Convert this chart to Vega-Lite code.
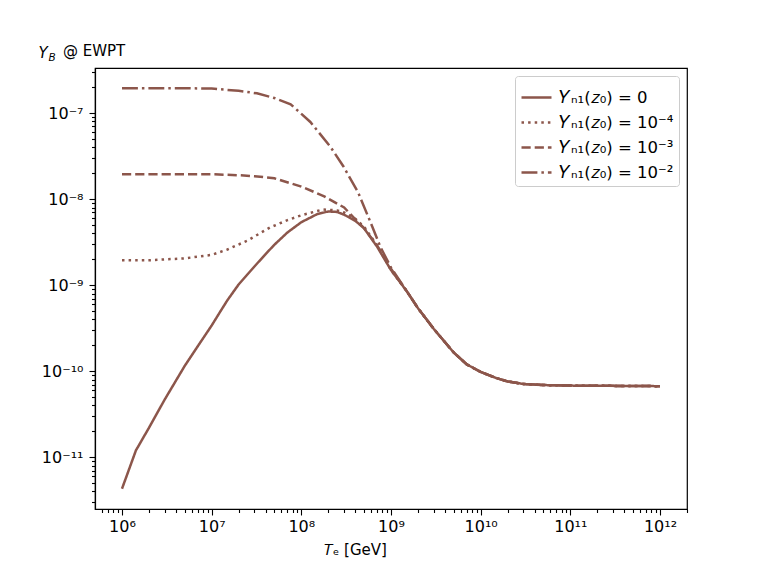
{
  "$schema": "https://vega.github.io/schema/vega-lite/v6.json",
  "description": "Y_B at EWPT against T_e for four initial N1 abundances",
  "autosize": {"type": "none"},
  "padding": {"left": 95, "top": 68, "right": 76, "bottom": 63},
  "width": 592,
  "height": 441,
  "background": "white",
  "title": {
    "text": "@ EWPT",
    "anchor": "start",
    "frame": "group",
    "dx": -32,
    "dy": 14,
    "offset": 0,
    "font": "DejaVu Sans",
    "fontSize": 15,
    "fontWeight": "normal",
    "color": "black"
  },
  "config": {
    "view": {"stroke": "black", "strokeWidth": 1.2},
    "axis": {
      "grid": false,
      "domainColor": "black",
      "domainWidth": 1.2,
      "tickColor": "black",
      "tickWidth": 1.1,
      "labelFont": "DejaVu Sans",
      "labelFontSize": 16,
      "labelColor": "black",
      "titleFont": "DejaVu Sans",
      "titleFontSize": 15,
      "titleFontWeight": "normal",
      "titleColor": "black",
      "labelFlush": false,
      "labelOverlap": false
    },
    "legend": {
      "orient": "top-right",
      "offset": 8,
      "strokeColor": "#cccccc",
      "fillColor": "rgba(255,255,255,0.85)",
      "cornerRadius": 3,
      "padding": 5,
      "rowPadding": -3,
      "labelFont": "DejaVu Sans",
      "labelFontSize": 16.5,
      "labelColor": "black",
      "symbolType": "stroke",
      "symbolSize": 900,
      "symbolStrokeWidth": 2.5,
      "symbolStrokeColor": "#8c564b",
      "labelLimit": 300,
      "labelOffset": 6
    }
  },
  "data": {
    "values": [
      {"T": 1e6, "Y": 4.3e-12, "s": "0"},
      {"T": 1.43e6, "Y": 1.2e-11, "s": "0"},
      {"T": 2e6, "Y": 2.2e-11, "s": "0"},
      {"T": 3e6, "Y": 4.7e-11, "s": "0"},
      {"T": 5e6, "Y": 1.15e-10, "s": "0"},
      {"T": 7e6, "Y": 1.95e-10, "s": "0"},
      {"T": 1e7, "Y": 3.4e-10, "s": "0"},
      {"T": 1.25e7, "Y": 4.95e-10, "s": "0"},
      {"T": 1.5e7, "Y": 6.7e-10, "s": "0"},
      {"T": 2e7, "Y": 1.02e-9, "s": "0"},
      {"T": 2.5e7, "Y": 1.33e-9, "s": "0"},
      {"T": 3e7, "Y": 1.65e-9, "s": "0"},
      {"T": 4e7, "Y": 2.3e-9, "s": "0"},
      {"T": 5e7, "Y": 2.95e-9, "s": "0"},
      {"T": 7e7, "Y": 4.1e-9, "s": "0"},
      {"T": 1e8, "Y": 5.4e-9, "s": "0"},
      {"T": 1.5e8, "Y": 6.7e-9, "s": "0"},
      {"T": 2e8, "Y": 7.2e-9, "s": "0"},
      {"T": 2.5e8, "Y": 7.1e-9, "s": "0"},
      {"T": 3e8, "Y": 6.6e-9, "s": "0"},
      {"T": 4e8, "Y": 5.6e-9, "s": "0"},
      {"T": 5e8, "Y": 4.6e-9, "s": "0"},
      {"T": 7e8, "Y": 2.8e-9, "s": "0"},
      {"T": 1e9, "Y": 1.5e-9, "s": "0"},
      {"T": 1.5e9, "Y": 8.5e-10, "s": "0"},
      {"T": 2e9, "Y": 5.4e-10, "s": "0"},
      {"T": 3e9, "Y": 3.1e-10, "s": "0"},
      {"T": 5e9, "Y": 1.65e-10, "s": "0"},
      {"T": 7e9, "Y": 1.2e-10, "s": "0"},
      {"T": 1e10, "Y": 9.8e-11, "s": "0"},
      {"T": 1.5e10, "Y": 8.3e-11, "s": "0"},
      {"T": 2e10, "Y": 7.6e-11, "s": "0"},
      {"T": 3e10, "Y": 7.1e-11, "s": "0"},
      {"T": 5e10, "Y": 6.9e-11, "s": "0"},
      {"T": 1e11, "Y": 6.8e-11, "s": "0"},
      {"T": 1e12, "Y": 6.7e-11, "s": "0"},

      {"T": 1e6, "Y": 1.95e-9, "s": "1e-4"},
      {"T": 2e6, "Y": 1.95e-9, "s": "1e-4"},
      {"T": 5e6, "Y": 2.05e-9, "s": "1e-4"},
      {"T": 1e7, "Y": 2.25e-9, "s": "1e-4"},
      {"T": 1.5e7, "Y": 2.6e-9, "s": "1e-4"},
      {"T": 2.5e7, "Y": 3.3e-9, "s": "1e-4"},
      {"T": 4.5e7, "Y": 4.7e-9, "s": "1e-4"},
      {"T": 7e7, "Y": 5.7e-9, "s": "1e-4"},
      {"T": 1e8, "Y": 6.5e-9, "s": "1e-4"},
      {"T": 1.75e8, "Y": 7.6e-9, "s": "1e-4"},
      {"T": 2.5e8, "Y": 7.4e-9, "s": "1e-4"},
      {"T": 3e8, "Y": 7.0e-9, "s": "1e-4"},
      {"T": 4e8, "Y": 5.9e-9, "s": "1e-4"},
      {"T": 5e8, "Y": 4.8e-9, "s": "1e-4"},
      {"T": 7e8, "Y": 2.9e-9, "s": "1e-4"},
      {"T": 1e9, "Y": 1.5e-9, "s": "1e-4"},
      {"T": 1.5e9, "Y": 8.5e-10, "s": "1e-4"},
      {"T": 2e9, "Y": 5.4e-10, "s": "1e-4"},
      {"T": 3e9, "Y": 3.1e-10, "s": "1e-4"},
      {"T": 5e9, "Y": 1.65e-10, "s": "1e-4"},
      {"T": 7e9, "Y": 1.2e-10, "s": "1e-4"},
      {"T": 1e10, "Y": 9.8e-11, "s": "1e-4"},
      {"T": 1.5e10, "Y": 8.3e-11, "s": "1e-4"},
      {"T": 2e10, "Y": 7.6e-11, "s": "1e-4"},
      {"T": 3e10, "Y": 7.1e-11, "s": "1e-4"},
      {"T": 5e10, "Y": 6.9e-11, "s": "1e-4"},
      {"T": 1e11, "Y": 6.8e-11, "s": "1e-4"},
      {"T": 1e12, "Y": 6.7e-11, "s": "1e-4"},

      {"T": 1e6, "Y": 1.95e-8, "s": "1e-3"},
      {"T": 1e7, "Y": 1.95e-8, "s": "1e-3"},
      {"T": 2e7, "Y": 1.9e-8, "s": "1e-3"},
      {"T": 3e7, "Y": 1.85e-8, "s": "1e-3"},
      {"T": 5e7, "Y": 1.75e-8, "s": "1e-3"},
      {"T": 1e8, "Y": 1.4e-8, "s": "1e-3"},
      {"T": 1.8e8, "Y": 1.08e-8, "s": "1e-3"},
      {"T": 3e8, "Y": 8.0e-9, "s": "1e-3"},
      {"T": 4.3e8, "Y": 5.4e-9, "s": "1e-3"},
      {"T": 5e8, "Y": 4.6e-9, "s": "1e-3"},
      {"T": 7e8, "Y": 2.9e-9, "s": "1e-3"},
      {"T": 1e9, "Y": 1.55e-9, "s": "1e-3"},
      {"T": 1.5e9, "Y": 8.5e-10, "s": "1e-3"},
      {"T": 2e9, "Y": 5.4e-10, "s": "1e-3"},
      {"T": 3e9, "Y": 3.1e-10, "s": "1e-3"},
      {"T": 5e9, "Y": 1.65e-10, "s": "1e-3"},
      {"T": 7e9, "Y": 1.2e-10, "s": "1e-3"},
      {"T": 1e10, "Y": 9.8e-11, "s": "1e-3"},
      {"T": 1.5e10, "Y": 8.3e-11, "s": "1e-3"},
      {"T": 2e10, "Y": 7.6e-11, "s": "1e-3"},
      {"T": 3e10, "Y": 7.1e-11, "s": "1e-3"},
      {"T": 5e10, "Y": 6.9e-11, "s": "1e-3"},
      {"T": 1e11, "Y": 6.8e-11, "s": "1e-3"},
      {"T": 1e12, "Y": 6.7e-11, "s": "1e-3"},

      {"T": 1e6, "Y": 1.95e-7, "s": "1e-2"},
      {"T": 5e6, "Y": 1.95e-7, "s": "1e-2"},
      {"T": 1e7, "Y": 1.93e-7, "s": "1e-2"},
      {"T": 2e7, "Y": 1.82e-7, "s": "1e-2"},
      {"T": 3.2e7, "Y": 1.7e-7, "s": "1e-2"},
      {"T": 5e7, "Y": 1.5e-7, "s": "1e-2"},
      {"T": 7.6e7, "Y": 1.27e-7, "s": "1e-2"},
      {"T": 1.26e8, "Y": 7.9e-8, "s": "1e-2"},
      {"T": 2.1e8, "Y": 4.1e-8, "s": "1e-2"},
      {"T": 2.95e8, "Y": 2.4e-8, "s": "1e-2"},
      {"T": 4.3e8, "Y": 1.2e-8, "s": "1e-2"},
      {"T": 5.9e8, "Y": 5.4e-9, "s": "1e-2"},
      {"T": 7.6e8, "Y": 2.8e-9, "s": "1e-2"},
      {"T": 1e9, "Y": 1.6e-9, "s": "1e-2"},
      {"T": 1.5e9, "Y": 8.5e-10, "s": "1e-2"},
      {"T": 2e9, "Y": 5.4e-10, "s": "1e-2"},
      {"T": 3e9, "Y": 3.1e-10, "s": "1e-2"},
      {"T": 5e9, "Y": 1.65e-10, "s": "1e-2"},
      {"T": 7e9, "Y": 1.2e-10, "s": "1e-2"},
      {"T": 1e10, "Y": 9.8e-11, "s": "1e-2"},
      {"T": 1.5e10, "Y": 8.3e-11, "s": "1e-2"},
      {"T": 2e10, "Y": 7.6e-11, "s": "1e-2"},
      {"T": 3e10, "Y": 7.1e-11, "s": "1e-2"},
      {"T": 5e10, "Y": 6.9e-11, "s": "1e-2"},
      {"T": 1e11, "Y": 6.8e-11, "s": "1e-2"},
      {"T": 1e12, "Y": 6.7e-11, "s": "1e-2"}
    ]
  },
  "encoding": {
    "x": {
      "field": "T",
      "type": "quantitative",
      "scale": {"type": "log", "domain": [5.0e5, 2.0e12], "nice": false},
      "axis": {
        "title": "\ud835\udc47\u2091 [GeV]",
        "titleX": 260,
        "titleY": 45,
        "titleAlign": "center",
        "titleBaseline": "alphabetic",
        "values": [6e5, 7e5, 8e5, 9e5,
          1e6, 2e6, 3e6, 4e6, 5e6, 6e6, 7e6, 8e6, 9e6,
          1e7, 2e7, 3e7, 4e7, 5e7, 6e7, 7e7, 8e7, 9e7,
          1e8, 2e8, 3e8, 4e8, 5e8, 6e8, 7e8, 8e8, 9e8,
          1e9, 2e9, 3e9, 4e9, 5e9, 6e9, 7e9, 8e9, 9e9,
          1e10, 2e10, 3e10, 4e10, 5e10, 6e10, 7e10, 8e10, 9e10,
          1e11, 2e11, 3e11, 4e11, 5e11, 6e11, 7e11, 8e11, 9e11,
          1e12, 2e12],
        "labelExpr": "abs(log(datum.value)/LN10 - round(log(datum.value)/LN10)) < 0.001 ? '10' + ['\u2076','\u2077','\u2078','\u2079','\u00b9\u2070','\u00b9\u00b9','\u00b9\u00b2'][round(log(datum.value)/LN10) - 6] : ''",
        "tickSize": {"condition": {"test": "abs(log(datum.value)/LN10 - round(log(datum.value)/LN10)) < 0.001", "value": 6}, "value": 3.5},
        "labelPadding": 3
      }
    },
    "strokeDash": {
      "field": "s",
      "type": "nominal",
      "scale": {
        "domain": ["0", "1e-4", "1e-3", "1e-2"],
        "range": [[1, 0], [2.5, 4.1], [9.2, 4], [15.9, 4, 2.5, 4]]
      },
      "legend": {
        "title": null,
        "labelExpr": "datum.value == '0' ? '\ud835\udc4c\u2099\u2081(\ud835\udc67\u2080) = 0' : datum.value == '1e-4' ? '\ud835\udc4c\u2099\u2081(\ud835\udc67\u2080) = 10\u207b\u2074' : datum.value == '1e-3' ? '\ud835\udc4c\u2099\u2081(\ud835\udc67\u2080) = 10\u207b\u00b3' : '\ud835\udc4c\u2099\u2081(\ud835\udc67\u2080) = 10\u207b\u00b2'"
      }
    }
  },
  "layer": [
    {
      "transform": [{"filter": "datum.s == '0' || datum.s == '1e-4'"}],
      "mark": {"type": "line", "color": "#8c564b", "strokeWidth": 2.5, "clip": true},
      "encoding": {
        "y": {
          "field": "Y",
          "type": "quantitative",
          "scale": {"type": "log", "domain": [2.5e-12, 3.35e-7], "nice": false},
          "axis": {
            "title": "Y",
            "titleFontStyle": "italic",
            "titleAngle": 0,
            "titleAlign": "left",
            "titleBaseline": "alphabetic",
            "titleX": -57,
            "titleY": -11,
            "values": [3e-12, 4e-12, 5e-12, 6e-12, 7e-12, 8e-12, 9e-12,
              1e-11, 2e-11, 3e-11, 4e-11, 5e-11, 6e-11, 7e-11, 8e-11, 9e-11,
              1e-10, 2e-10, 3e-10, 4e-10, 5e-10, 6e-10, 7e-10, 8e-10, 9e-10,
              1e-9, 2e-9, 3e-9, 4e-9, 5e-9, 6e-9, 7e-9, 8e-9, 9e-9,
              1e-8, 2e-8, 3e-8, 4e-8, 5e-8, 6e-8, 7e-8, 8e-8, 9e-8,
              1e-7, 2e-7, 3e-7],
            "labelExpr": "abs(log(datum.value)/LN10 - round(log(datum.value)/LN10)) < 0.001 ? '10' + ['\u207b\u00b9\u00b9','\u207b\u00b9\u2070','\u207b\u2079','\u207b\u2078','\u207b\u2077'][round(log(datum.value)/LN10) + 11] : ''",
            "tickSize": {"condition": {"test": "abs(log(datum.value)/LN10 - round(log(datum.value)/LN10)) < 0.001", "value": 6}, "value": 3.5},
            "labelPadding": 6
          }
        }
      }
    },
    {
      "transform": [{"filter": "datum.s == '1e-3' || datum.s == '1e-2'"}],
      "mark": {"type": "line", "color": "#8c564b", "strokeWidth": 2.5, "clip": true},
      "encoding": {
        "y": {
          "field": "Y",
          "type": "quantitative",
          "scale": {"type": "log", "domain": [2.5e-12, 3.35e-7], "nice": false},
          "axis": {
            "orient": "right",
            "title": "B",
            "titleFontStyle": "italic",
            "titleFontSize": 10.5,
            "titleAngle": 0,
            "titleAlign": "left",
            "titleBaseline": "alphabetic",
            "titleX": -639,
            "titleY": -8,
            "domain": false,
            "ticks": false,
            "labels": false
          }
        }
      }
    }
  ],
  "resolve": {"scale": {"y": "independent"}, "axis": {"y": "independent"}}
}
